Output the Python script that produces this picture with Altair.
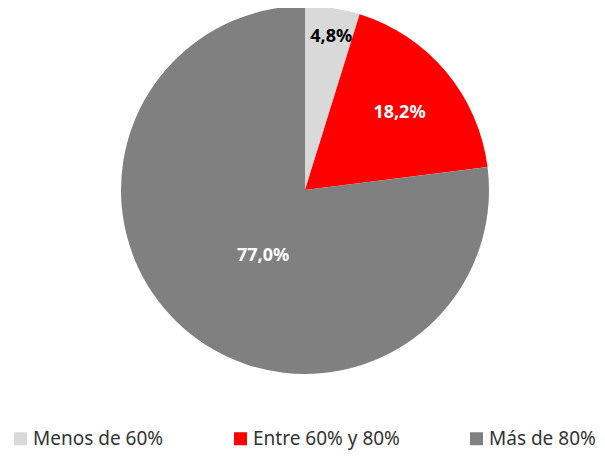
import altair as alt
import pandas as pd

cats = ["Menos de 60%", "Entre 60% y 80%", "Más de 80%"]
vals = [4.8, 18.2, 77.0]
colors = ["#D9D9D9", "#FF0000", "#808080"]
order = [0, 1, 2]

df = pd.DataFrame({"cat": cats, "v": vals, "o": order})
base = alt.Chart(df)

pie = base.mark_arc(outerRadius=184).encode(
    theta=alt.Theta("v:Q", stack=True),
    color=alt.Color(
        "cat:N",
        sort=cats,
        scale=alt.Scale(domain=cats, range=colors),
        legend=alt.Legend(
            orient="none",
            legendX=-2,
            legendY=421,
            direction="horizontal",
            columns=3,
            title=None,
            symbolType="square",
            symbolSize=169,
            symbolStrokeWidth=0,
            labelFont="Noto Sans",
            labelFontSize=19,
            labelColor="#333333",
            labelOffset=3,
            columnPadding=67,
            labelLimit=300,
        ),
    ),
    order=alt.Order("o:Q"),
)

lab = (
    base.transform_joinaggregate(total="sum(v)")
    .transform_window(cum="sum(v)", sort=[alt.SortField("o")])
    .transform_calculate(
        mid="(datum.cum - datum.v / 2) / datum.total * 2 * PI",
        label="replace(format(datum.v, '.1f'), '.', ',') + '%'",
    )
)

def label_layer(cat, radius, color, dx=0, dy=0):
    return lab.transform_filter(alt.datum.cat == cat).mark_text(
        radius=radius,
        font="Noto Sans",
        fontSize=18,
        fontWeight="bold",
        color=color,
        align="center",
        baseline="middle",
        dx=dx,
        dy=dy,
    ).encode(
        theta=alt.Theta("mid:Q", scale=None, stack=False),
        text="label:N",
    )

t1 = label_layer(cats[0], 155, "#000000", dx=3)
t2 = label_layer(cats[1], 122, "#FFFFFF", dx=1, dy=1)
t3 = label_layer(cats[2], 80, "#FFFFFF", dx=11, dy=6)

chart = (
    alt.layer(pie, t1, t2, t3)
    .properties(
        width=584,
        height=364,
        autosize=alt.AutoSizeParams(type="none"),
        padding={"left": 5, "top": 0, "right": 0, "bottom": 79},
    )
    .configure_view(strokeWidth=0)
)

chart.save("out.html", embed_options={"renderer": "svg", "actions": False})
